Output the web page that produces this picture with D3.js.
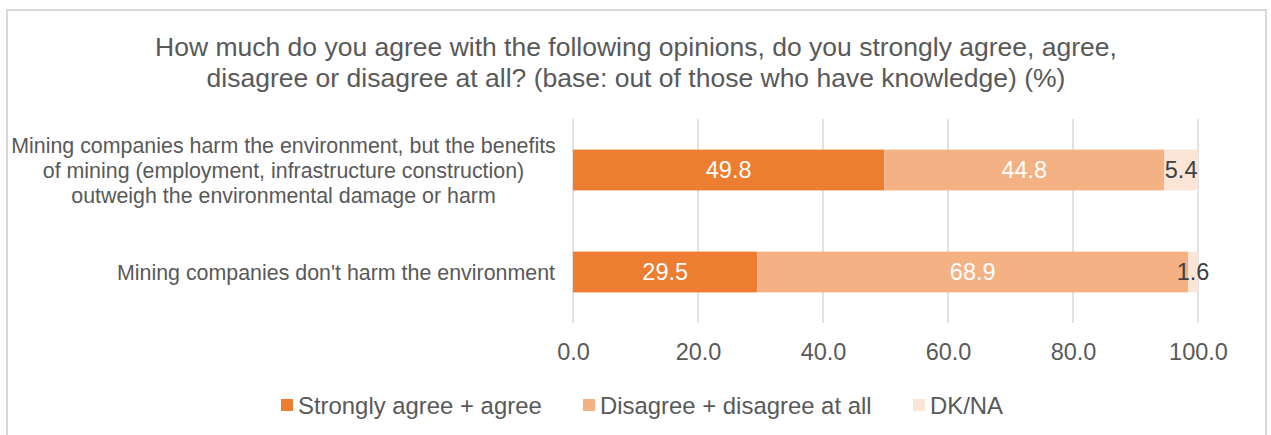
<!DOCTYPE html>
<html>
<head>
<meta charset="utf-8">
<script src="https://cdn.jsdelivr.net/npm/d3@7"></script>
<style>
  html, body { margin: 0; padding: 0; background: #fff; }
  svg { display: block; font-family: "Liberation Sans", Arial, sans-serif; }
</style>
</head>
<body>
<svg id="chart" width="1271" height="435"></svg>
<script>
// ---- data ----
const titleLines = [
  "How much do you agree with the following opinions, do you strongly agree, agree,",
  "disagree or disagree at all? (base: out of those who have knowledge) (%)"
];
const categories = [
  ["Mining companies harm the environment, but the benefits",
   "of mining (employment, infrastructure construction)",
   "outweigh the environmental damage or harm"],
  ["Mining companies don't harm the environment"]
];
const seriesNames = ["Strongly agree + agree", "Disagree + disagree at all", "DK/NA"];
const agreeValues = [49.8, 29.5];
const disagreeValues = [44.8, 68.9];
const dknaValues = [5.4, 1.6];
const tickValues = [0, 20, 40, 60, 80, 100];

// ---- styles ----
const colors = ["#ED7D31", "#F4B183", "#FBE5D6"];
const labelColors = ["#ffffff", "#ffffff", "#404040"];
const textColor = "#595959";
const gridColor = "#D9D9D9";

const svg = d3.select("#chart");

// frame
svg.append("rect")
  .attr("x", 7).attr("y", 10)
  .attr("width", 1259).attr("height", 440)
  .attr("fill", "#fff")
  .attr("stroke", gridColor).attr("stroke-width", 2);

// title
svg.append("text")
  .attr("x", 636).attr("y", 56)
  .attr("text-anchor", "middle")
  .attr("fill", textColor)
  .style("font-size", "26.5px")
  .selectAll("tspan").data(titleLines).join("tspan")
  .attr("x", 636).attr("dy", (d, i) => i === 0 ? 0 : 31)
  .text(d => d);

// scales
const x = d3.scaleLinear().domain([0, 100]).range([573, 1198]);
const catKeys = categories.map((c, i) => "c" + i);
const y = d3.scaleBand().domain(catKeys).range([119, 323]).paddingInner(0.6).paddingOuter(0.3);

// gridlines
svg.append("g").selectAll("line").data(tickValues).join("line")
  .attr("x1", d => x(d)).attr("x2", d => x(d))
  .attr("y1", 119).attr("y2", 323)
  .attr("stroke", gridColor).attr("stroke-width", 1.5);

// x axis labels
const xAxis = d3.axisBottom(x).tickValues(tickValues).tickFormat(d3.format(".1f")).tickSize(0).tickPadding(0);
const gx = svg.append("g").attr("transform", "translate(0,343)").call(xAxis);
gx.select(".domain").remove();
gx.selectAll("text")
  .attr("fill", textColor)
  .attr("dy", "0.71em")
  .attr("y", 0)
  .style("font-size", "23.5px")
  .style("font-family", '"Liberation Sans", Arial, sans-serif');

// stacked data
const rows = catKeys.map((k, i) => ({
  key: k, v0: agreeValues[i], v1: disagreeValues[i], v2: dknaValues[i]
}));
const stack = d3.stack().keys(["v0", "v1", "v2"]);
const stacked = stack(rows);

const layers = svg.append("g").selectAll("g").data(stacked).join("g")
  .attr("fill", (d, i) => colors[i]);
layers.selectAll("rect").data(d => d).join("rect")
  .attr("x", d => x(d[0]))
  .attr("width", d => x(d[1]) - x(d[0]))
  .attr("y", d => y(d.data.key))
  .attr("height", y.bandwidth());

// value labels
stacked.forEach((layer, li) => {
  svg.append("g").selectAll("text").data(layer).join("text")
    .attr("x", d => x((d[0] + d[1]) / 2))
    .attr("y", d => y(d.data.key) + y.bandwidth() / 2)
    .attr("dy", "0.36em")
    .attr("text-anchor", "middle")
    .attr("fill", labelColors[li])
    .style("font-size", "23.5px")
    .text(d => d3.format(".1f")(d[1] - d[0]));
});

// category labels
const catG = svg.append("g");
categories.forEach((lines, i) => {
  const cy = y(catKeys[i]) + y.bandwidth() / 2;
  const lh = 25;
  const t = catG.append("text")
    .attr("fill", textColor)
    .style("font-size", "21.4px")
    .attr("text-anchor", lines.length > 1 ? "middle" : "end");
  const xPos = lines.length > 1 ? 283.5 : 555;
  lines.forEach((ln, j) => {
    t.append("tspan")
      .attr("x", xPos)
      .attr("y", cy + (j - (lines.length - 1) / 2) * lh)
      .attr("dy", "0.36em")
      .text(ln);
  });
});

// legend
const legendX = [281, 583, 913];
const lg = svg.append("g").selectAll("g").data(seriesNames).join("g")
  .attr("transform", (d, i) => `translate(${legendX[i]},405)`);
lg.append("rect").attr("x", 0).attr("y", -6).attr("width", 12).attr("height", 12)
  .attr("fill", (d, i) => colors[i]);
lg.append("text").attr("x", 17).attr("dy", "0.36em")
  .attr("fill", textColor).style("font-size", "23.9px")
  .text(d => d);
</script>
</body>
</html>
